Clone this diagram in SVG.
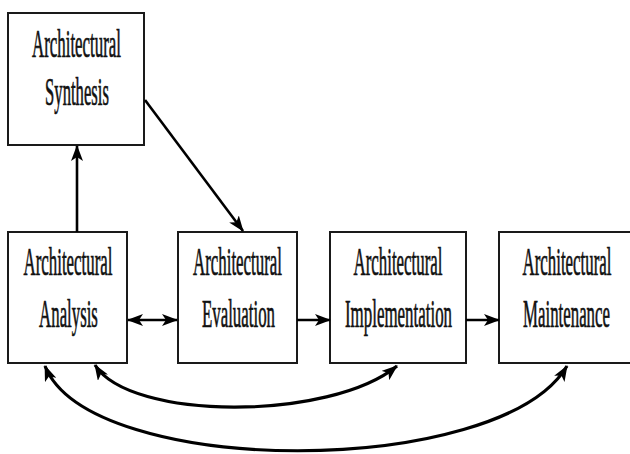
<svg xmlns="http://www.w3.org/2000/svg" width="630" height="454" viewBox="0 0 630 454">
<style>
.box{fill:#fff;stroke:#1a1a1a;stroke-width:2}
.lbl{font-family:"Liberation Serif","Times New Roman",serif;font-size:40px;fill:#111;stroke:#111;stroke-width:0.7;text-anchor:middle}
.con{fill:none;stroke:#000;stroke-width:2.6}
.cur{fill:none;stroke:#000;stroke-width:3.2}
</style>
<defs>
<marker id="ah" markerUnits="userSpaceOnUse" markerWidth="16" markerHeight="12" viewBox="0 0 16 12" refX="15" refY="6" orient="auto-start-reverse">
<path d="M0,0 L16,6 L0,12 L4,6 Z" fill="#000"/>
</marker>
</defs>
<rect width="630" height="454" fill="#fff"/>
<g id="synthesis">
<rect class="box" x="8" y="13" width="136" height="132"/>
<text class="lbl" transform="translate(76.5,57) scale(0.42,1)" textLength="212" lengthAdjust="spacingAndGlyphs">Architectural</text>
<text class="lbl" transform="translate(77,105) scale(0.42,1)" textLength="152" lengthAdjust="spacingAndGlyphs">Synthesis</text>
</g>
<g id="analysis">
<rect class="box" x="8" y="232" width="119" height="131"/>
<text class="lbl" transform="translate(68,275) scale(0.42,1)" textLength="212" lengthAdjust="spacingAndGlyphs">Architectural</text>
<text class="lbl" transform="translate(68.5,327) scale(0.42,1)" textLength="140" lengthAdjust="spacingAndGlyphs">Analysis</text>
</g>
<g id="evaluation">
<rect class="box" x="178" y="232" width="119" height="131"/>
<text class="lbl" transform="translate(237.5,275) scale(0.42,1)" textLength="212" lengthAdjust="spacingAndGlyphs">Architectural</text>
<text class="lbl" transform="translate(238.5,327) scale(0.42,1)" textLength="174" lengthAdjust="spacingAndGlyphs">Evaluation</text>
</g>
<g id="implementation">
<rect class="box" x="330" y="232" width="136" height="131"/>
<text class="lbl" transform="translate(398,275) scale(0.42,1)" textLength="212" lengthAdjust="spacingAndGlyphs">Architectural</text>
<text class="lbl" transform="translate(398.5,327) scale(0.42,1)" textLength="255" lengthAdjust="spacingAndGlyphs">Implementation</text>
</g>
<g id="maintenance">
<rect class="box" x="499" y="232" width="140" height="131"/>
<text class="lbl" transform="translate(567,275) scale(0.42,1)" textLength="212" lengthAdjust="spacingAndGlyphs">Architectural</text>
<text class="lbl" transform="translate(566.5,327) scale(0.42,1)" textLength="207" lengthAdjust="spacingAndGlyphs">Maintenance</text>
</g>
<g id="connectors">
<line class="con" x1="77" y1="232" x2="77" y2="146" marker-end="url(#ah)"/>
<line class="con" x1="145" y1="100" x2="243" y2="231" marker-end="url(#ah)"/>
<line class="con" x1="128" y1="320" x2="177" y2="320" marker-start="url(#ah)" marker-end="url(#ah)"/>
<line class="con" x1="297" y1="320" x2="330" y2="320" marker-end="url(#ah)"/>
<line class="con" x1="466" y1="320" x2="499" y2="320" marker-end="url(#ah)"/>
<path class="cur" d="M95,365 C130,421 330,421 397,366" marker-start="url(#ah)" marker-end="url(#ah)"/>
<path class="cur" d="M45,366 C90,479 500,479 567,366" marker-start="url(#ah)" marker-end="url(#ah)"/>
</g>
</svg>
